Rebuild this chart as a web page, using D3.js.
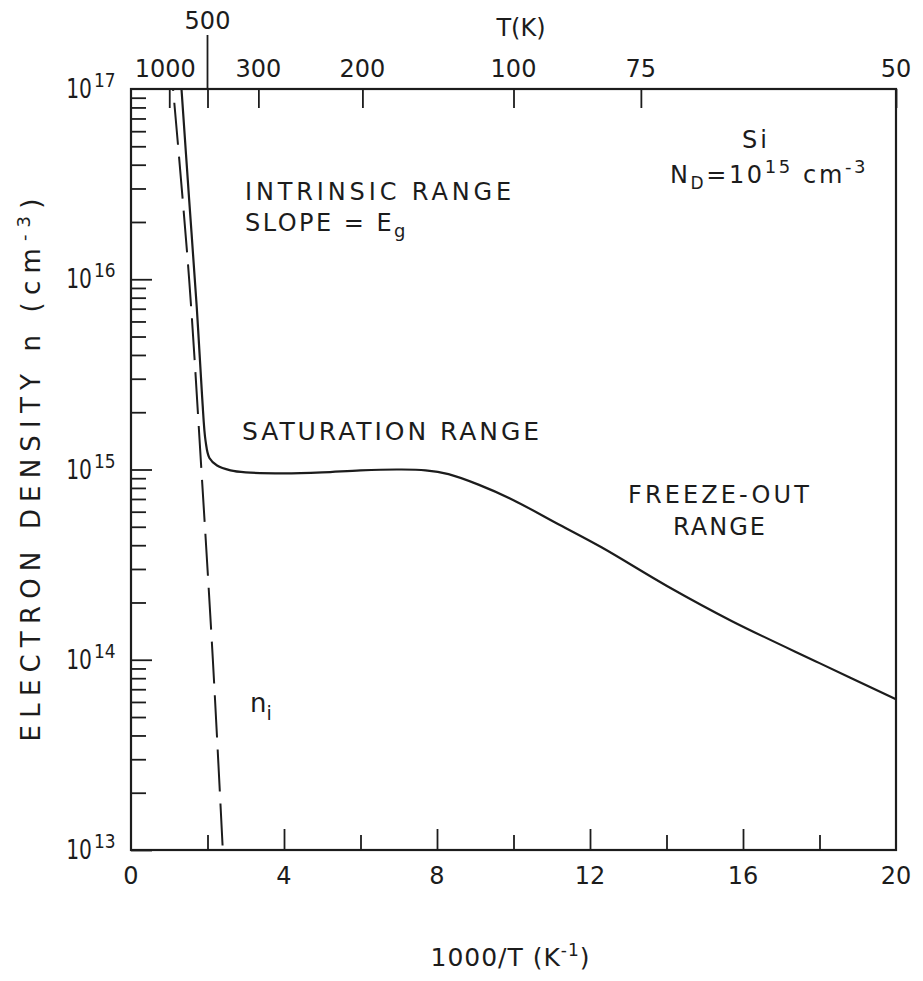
<!DOCTYPE html>
<html><head><meta charset="utf-8">
<script src="https://cdn.jsdelivr.net/npm/d3@7"></script>
<style>body{margin:0;background:#fff}svg{display:block}</style>
</head><body><svg id="c" width="923" height="981"></svg>
<script>
// ---- data ----
const nX = [1.32,1.52,1.72,1.86,1.95,2.05,2.25,2.6,3.0,4.0,5.0,6.0,7.0,7.7,8.3,9.1,10.0,11.1,12.3,14.0,15.7,18.0,20.0];
const nVal = [1e17,2.63e16,7.08e15,2.4e15,1.41e15,1.15e15,1.05e15,0.99e15,0.966e15,0.955e15,0.966e15,0.99e15,1.0e15,0.99e15,0.945e15,8.3e14,6.9e14,5.25e14,3.9e14,2.45e14,1.6e14,9.6e13,6.2e13];
const niX = [1.1,1.52,1.84,2.14,2.4];
const niVal = [1e17,1e16,1e15,1e14,1e13];
const bottomMajor = [4,8,12,16];
const bottomMinor = [2,6,10,14,18];
const bottomLabels = [0,4,8,12,16,20];
const topTickLabels = ["1000","500","300","200","100","75","50"];
const topTickPos = [1,2,3.33,6.05,10,13.33,20];
const decades = [13,14,15,16,17];
const mantissas = [2,3,4,5,6,7,8,9];

// ---- setup ----
const svg = d3.select('#c');
const FONT = "'DejaVu Sans', Verdana, sans-serif";
const INK = "#1c1c1c";
const x = d3.scaleLinear().domain([0,20]).range([131,896]);
const y = d3.scaleLog().domain([1e13,1e17]).range([850,89]);

// frame
svg.append('rect').attr('x',x(0)).attr('y',y(1e17))
  .attr('width',x(20)-x(0)).attr('height',y(1e13)-y(1e17))
  .attr('fill','none').attr('stroke',INK).attr('stroke-width',2.2);

// left ticks (inward)
const majorY = decades.slice(0,4).map(d=>Math.pow(10,d));
const minorY = [];
decades.slice(0,4).forEach(d=>mantissas.forEach(m=>minorY.push(m*Math.pow(10,d))));
function styleAxis(g){g.select('.domain').remove();g.selectAll('line').attr('stroke',INK).attr('stroke-width',1.8);}
svg.append('g').attr('transform',`translate(${x(0)},0)`)
  .call(d3.axisRight(y).tickValues(majorY).tickSize(21).tickFormat('')).call(styleAxis);
svg.append('g').attr('transform',`translate(${x(0)},0)`)
  .call(d3.axisRight(y).tickValues(minorY).tickSize(15).tickFormat('')).call(styleAxis);

// bottom ticks (inward)
svg.append('g').attr('transform',`translate(0,${y(1e13)})`)
  .call(d3.axisTop(x).tickValues(bottomMajor).tickSize(21).tickFormat('')).call(styleAxis);
svg.append('g').attr('transform',`translate(0,${y(1e13)})`)
  .call(d3.axisTop(x).tickValues(bottomMinor).tickSize(15).tickFormat('')).call(styleAxis);

// top ticks (inward)
svg.append('g').attr('transform',`translate(0,${y(1e17)})`)
  .call(d3.axisBottom(x).tickValues(topTickPos).tickSize(19).tickFormat('')).call(styleAxis);
// the 500 K tick rises above the frame
svg.append('line').attr('x1',x(topTickPos[1])).attr('x2',x(topTickPos[1]))
  .attr('y1',35).attr('y2',y(1e17)).attr('stroke',INK).attr('stroke-width',1.8);

// bottom labels
svg.append('g').selectAll('text').data(bottomLabels).join('text')
  .attr('x',d=>x(d)).attr('y',884).attr('text-anchor','middle')
  .attr('font-family',FONT).attr('font-size',24).attr('fill',INK).text(d=>d);

// top labels
svg.append('g').selectAll('text').data(topTickLabels).join('text')
  .attr('x',(d,i)=>x(topTickPos[i]) + (i===0?-4:0))
  .attr('y',(d,i)=>i===1?29:77).attr('text-anchor','middle')
  .attr('font-family',FONT).attr('font-size',24).attr('fill',INK).text(d=>d);
svg.append('text').attr('x',521).attr('y',36).attr('text-anchor','middle')
  .attr('font-family',FONT).attr('font-size',24).attr('fill',INK).text('T(K)');

// y labels 10^k
const yl = svg.append('g').selectAll('g').data(decades).join('g');
yl.append('text').attr('transform',d=>`translate(92,${y(Math.pow(10,d))+9}) scale(0.78,1)`)
  .attr('text-anchor','end')
  .attr('font-family',FONT).attr('font-size',26).attr('fill',INK).text('10');
yl.append('text').attr('transform',d=>`translate(94,${y(Math.pow(10,d))-2}) scale(0.85,1)`)
  .attr('text-anchor','start')
  .attr('font-family',FONT).attr('font-size',20).attr('fill',INK).text(d=>d);

// curves
const line = d3.line().x(d=>x(d[0])).y(d=>y(d[1])).curve(d3.curveCatmullRom.alpha(0.5));
svg.append('path').datum(nX.map((v,i)=>[v,nVal[i]])).attr('d',line)
  .attr('fill','none').attr('stroke',INK).attr('stroke-width',2.2);
svg.append('path').datum(niX.map((v,i)=>[v,niVal[i]])).attr('d',line)
  .attr('fill','none').attr('stroke',INK).attr('stroke-width',2).attr('stroke-dasharray','42,12')
  .attr('stroke-dashoffset',-14);

// text helper: parts = [[text, dy, size]]
function rich(parent, x0, yb, size, parts, target, anchor){
  const t = parent.append('text').attr('x',x0).attr('y',yb)
    .attr('font-family',FONT).attr('font-size',size).attr('fill',INK)
    .attr('text-anchor',anchor||'start');
  let n=0;
  parts.forEach(p=>{t.append('tspan').attr('dy',p[1]||0).attr('font-size',p[2]||size).text(p[0]);n+=p[0].length;});
  if(target){
    const w = t.node().getComputedTextLength();
    const ls = (target - w)/n;
    t.attr('letter-spacing',ls);
    if(anchor==='middle') t.attr('dx', ls/2);
  }
  return t;
}
rich(svg,245,200,24,[['INTRINSIC RANGE']],270);
rich(svg,245,231,24,[['SLOPE = E'],['g',6,18]],163);
rich(svg,242,440,25,[['SATURATION RANGE']],300);
rich(svg,742,148,24,[['Si']],28);
rich(svg,670,183,24,[['N'],['D',6,17],['=10',-6,24],['15',-10,18],[' cm',10,24],['-3',-10,18]],198);
rich(svg,628,503,24,[['FREEZE-OUT']],184);
rich(svg,673,535,24,[['RANGE']],94);
rich(svg,250,712,26,[['n'],['i',8,19]]);

// axis titles
rich(svg,510,966,25,[['1000/T (K'],['-1',-10,17],[')',10,25]],160,'middle');
const yt = svg.append('g').attr('transform','translate(40,470) rotate(-90)');
rich(yt,0,0,26,[['ELECTRON DENSITY n (cm'],['-3',-10,18],[')',10,26]],550,'middle');
</script></body></html>
